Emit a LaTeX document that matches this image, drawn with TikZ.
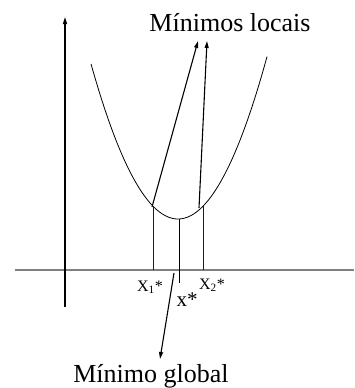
\documentclass[tikz,border=0pt]{standalone}
\usepackage{fontspec}
\setmainfont{Liberation Serif}
\usetikzlibrary{arrows.meta}

\begin{document}
\begin{tikzpicture}[
    x=1pt, y=-1pt,
    >={Triangle[length=7pt, width=4pt]},
    every node/.style={inner sep=0pt},
    curvestyle/.style={black, line width=0.8pt},
    guide/.style={blue, line width=0.8pt},
    pointer/.style={->, black, line width=1.1pt},
    bigtext/.style={font=\fontsize{26}{29}\selectfont, anchor=base},
    smalltext/.style={font=\fontsize{16}{18}\selectfont, anchor=base}
]
\useasboundingbox (0,0) rectangle (354,388);

% --- Axes ---
\coordinate (hl) at (15,270);
\coordinate (hr) at (354,270);
\coordinate (vb) at (65,307);
\coordinate (vt) at (65,17);
\draw[gray, line width=2pt] (hl) -- (hr);
\draw[->, line width=1.2pt] (vb) -- (vt);

% --- Function curve ---
\draw[curvestyle, domain=91:267, samples=80]
    plot (\x, {219 - 0.0205*(\x-178)^2});

% --- Points on the curve ---
\coordinate (m1) at (153,206);
\coordinate (m2) at (203,206);
\coordinate (mg) at (179,219);
\coordinate (a1) at (152,207);
\coordinate (a2) at (199,208);

% --- Projections onto the axis ---
\coordinate (p1) at (153,270);
\coordinate (p2) at (203,270);
\coordinate (pg) at (179,283);
\draw[guide] (m1) -- (p1);
\draw[guide] (m2) -- (p2);
\draw[curvestyle, line width=1pt] (mg) -- (pg);

% --- Axis labels ---
\node[smalltext] (xa) at (150,291) {X\textsubscript{1}*};
\node[smalltext] (xb) at (212,289) {X\textsubscript{2}*};
\node[font=\fontsize{21}{24}\selectfont, anchor=base] (xg) at (187,306) {x*};

% --- Annotations ---
\node[bigtext] (locais) at (230,31) {Mínimos locais};
\node[bigtext] (global) at (151,382) {Mínimo global};
\coordinate (t1) at (198,41);
\coordinate (t2) at (207,41);
\coordinate (gs) at (174,273);
\coordinate (gt) at (160,359);
\draw[pointer] (a1) -- (t1);
\draw[pointer] (a2) -- (t2);
\draw[pointer] (gs) -- (gt);

\end{tikzpicture}
\end{document}
